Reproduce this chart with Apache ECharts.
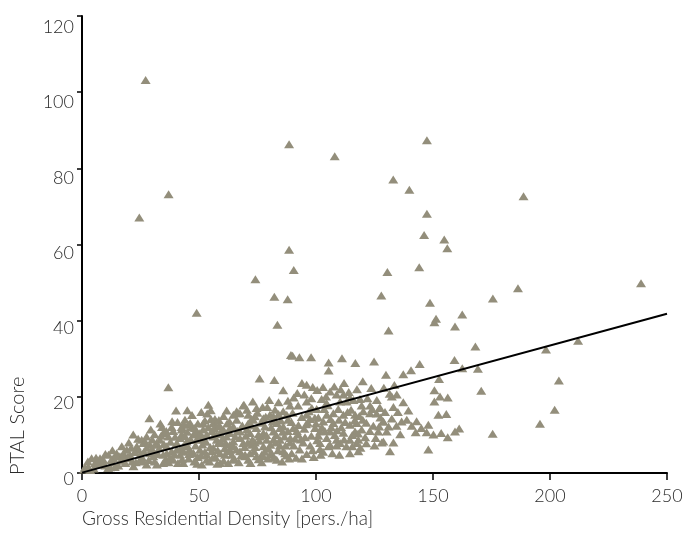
<!DOCTYPE html>
<html>
<head>
<meta charset="utf-8">
<title>PTAL Score vs Gross Residential Density</title>
<script src="https://cdn.jsdelivr.net/npm/echarts@6/dist/echarts.min.js"></script>
<style>
  html, body { margin: 0; padding: 0; background: #ffffff; }
  #chart { width: 690px; height: 556px; }
</style>
</head>
<body>
<div id="chart"></div>
<script>
// Axis ranges and ticks
const xTicks = [0, 50, 100, 150, 200, 250];
const yTicks = [0, 20, 40, 60, 80, 100, 120];

// Fitted trend line (PTAL = slope * density + intercept)
const trendSlope = 0.1668;
const trendIntercept = 0.1;

// Sparse high-PTAL areas  [density, PTAL]
const highScoreAreas = [
  [27.2,103.2],[88.5,86.3],[37.0,73.2],[24.5,67.1],[88.5,58.6],[90.5,53.3],[74.1,50.9],[82.2,46.3],[87.9,45.6],[49.0,42.1],[83.5,38.9],
  [108.0,83.2],[147.4,87.4],[133.0,77.1],[139.9,74.4],[188.7,72.7],[147.4,68.1],[146.2,62.5],[154.8,61.3],[156.1,59.0],[130.5,52.8],
  [144.1,54.0],[127.9,46.6],[148.7,44.7],[175.6,45.8],[186.3,48.5],[162.5,41.6],[151.3,40.5],[150.6,39.6],[159.4,38.5],[131.0,37.4],
  [168.1,33.2],[238.9,49.8],[198.3,32.4],[212.0,34.7],[203.8,24.3],[202.0,16.6],[195.7,12.9]
];

// Areas above 125 pers./ha
const denseAreas = [
  [159.2,29.7],[144.3,28.6],[140.6,27.0],[137.3,25.9],[129.9,25.8],[162.5,27.5],[169.2,27.4],[152.6,24.7],[133.5,23.1],[170.6,21.6],
  [150.6,21.7],[131.5,20.8],[132.4,20.1],[153.0,20.1],[156.3,19.8],[150.6,18.8],[137.3,18.6],[133.1,17.3],[127.4,17.1],[152.3,15.3],
  [155.7,15.5],[128.6,13.5],[132.4,14.3],[136.6,13.5],[138.8,14.0],[140.9,12.4],[134.4,12.4],[148.0,12.7],[161.2,11.7],[130.2,10.9],
  [142.6,10.7],[147.3,10.7],[150.2,10.1],[153.5,10.5],[156.3,9.4],[159.4,10.9],[175.5,10.3],[128.1,8.0],[133.1,8.0],[131.6,5.7],[148.0,6.2],
  [129.5,16.0],[131.0,12.2],[135.0,16.0],[136.0,10.2],[139.5,16.4],[143.0,13.6],[145.0,11.8],[134.5,20.6],[129.0,22.4]
];

// Areas between 60 and 130 pers./ha
const midAreas = [
  [89.3,31.0],[90.0,30.8],[92.9,30.4],[97.9,30.4],[105.4,29.0],[105.4,26.9],[111.1,30.1],[116.8,28.9],[124.8,29.3],[75.9,24.8],
  [82.2,24.4],[86.0,21.7],[94.0,23.6],[96.0,23.2],[98.6,22.6],[120.0,24.1],[107.8,22.7],[123.6,22.3],[106.0,21.4],[108.8,20.6],
  [111.7,20.6],[114.0,21.3],[102.4,19.4],[104.3,20.1],[110.3,18.8],[113.1,18.8],[68.9,17.7],[74.6,17.1],[77.2,17.3],[79.2,17.3],
  [82.5,16.6],[86.0,16.2],[88.9,17.7],[92.4,17.7],[98.2,17.1],[100.3,16.8],[119.5,17.7],[123.1,17.7],[127.1,17.1],[120.2,16.2],
  [123.1,15.7],[64.7,15.3],[67.5,15.7],[71.1,15.3],[73.9,14.9],[80.3,15.3],[96.0,15.3],[104.6,15.3],[107.4,15.7],[111.7,15.3],
  [116.7,15.3],[125.9,15.6],[66.1,14.0],[73.2,14.0],[77.5,14.4],[93.9,14.7],[97.4,14.2],[103.1,13.5],[107.4,13.1],[114.5,12.7],
  [117.4,13.1],[128.8,13.5],[83.2,13.1],[86.0,12.2],[90.3,11.8],[99.6,11.8],[101.7,10.9],[106.0,10.9],[111.7,10.6],[116.7,10.9],
  [119.5,11.4],[126.6,10.9],[63.2,10.5],[67.5,10.9],[71.8,10.5],[77.5,10.5],[81.8,10.9],[92.4,10.1],[95.3,9.4],[104.6,9.2],
  [108.8,8.7],[114.5,8.7],[118.1,8.7],[64.7,8.3],[68.9,7.9],[73.9,8.0],[78.9,8.7],[84.6,8.7],[88.9,8.0],[101.7,7.9],
  [106.0,7.4],[110.3,7.9],[117.4,7.9],[128.8,8.3],[63.2,6.1],[67.5,5.7],[71.8,5.2],[76.8,4.8],[81.0,5.2],[86.0,5.7],
  [89.6,5.2],[101.7,6.3],[105.3,7.0],[108.8,7.2],[114.5,5.2],[118.1,5.7],[64.7,3.7],[77.5,4.4],[69.7,4.4],
  [69.2,17.9],[66.8,15.7],[72.5,14.2],[81.8,14.9],[87.5,15.3],[64.7,12.2],[70.4,11.4],[78.2,12.2],[84.6,11.8],[75.4,10.1],
  [67.5,9.2],[81.8,8.7],[63.2,7.4],[72.5,7.4],[77.5,7.0],[84.6,7.2],[61.1,4.8],[69.7,4.8],[74.6,4.4],[80.3,4.8],
  [86.8,5.2],[65.4,3.5],[71.1,3.5],[76.8,2.8],[83.2,3.5],
  [63.0,13.5],[65.5,9.6],[66.0,6.2],[67.0,2.8],[68.5,12.5],[69.5,6.8],[70.0,9.8],[71.0,13.0],[72.0,2.6],[72.8,8.8],
  [73.5,5.8],[74.5,11.8],[75.5,3.6],[75.8,8.5],[76.5,13.2],[78.0,5.6],[78.8,10.0],[79.5,3.8],[80.5,7.4],[80.8,12.0],
  [82.0,4.0],[83.0,10.0],[83.8,6.0],[85.0,13.8],[85.5,3.0],[86.5,9.6],[87.0,7.2],[88.0,11.0],[88.5,3.8],[89.5,13.4],
  [90.5,7.2],[91.0,9.0],[91.5,4.0],[92.5,12.6],[93.0,6.2],[94.5,8.0],[95.0,11.6],[96.0,5.0],[96.5,13.2],[97.5,7.2],
  [98.0,9.8],[99.0,4.2],[100.0,13.0],[100.5,8.6],[102.5,12.0],[103.0,5.6],[103.5,16.8],[105.0,17.8],[106.5,12.0],[107.0,5.2],
  [109.0,11.2],[109.5,16.8],[110.0,4.8],[112.5,13.4],[113.0,7.0],[115.0,16.6],[115.5,10.0],[116.0,19.2],[117.5,22.0],[118.5,15.0],
  [119.0,6.6],[121.0,9.4],[121.5,13.2],[122.0,19.6],[124.5,12.4],[125.0,7.2],[126.0,19.2],[127.5,14.6],[98.0,19.6],[96.0,18.8],
  [90.5,19.8],[84.0,18.6],[80.0,19.2],[73.0,18.8],[70.5,16.6],[88.0,14.0],[101.0,14.6],[112.0,23.6],[100.5,21.8],[92.0,21.0],
  [66.5,11.0],[68.0,4.6],[70.8,8.0],[72.5,12.5],[74.0,6.8],[75.0,15.8],[76.0,9.6],[78.5,14.8],[79.8,6.4],[81.5,13.5],
  [82.8,8.0],[84.0,15.5],[85.8,10.8],[87.5,4.6],[89.0,9.2],[90.0,15.8],[91.8,11.0],[93.5,8.8],[94.0,3.8],[95.8,12.8],
  [97.0,16.2],[98.5,6.0],[99.5,14.5],[101.0,9.8],[102.0,4.8],[103.8,11.0],[104.5,18.4],[106.2,14.2],[108.0,10.0],[109.8,14.0],
  [110.8,12.0],[112.0,8.8],[113.5,16.0],[115.5,7.0],[116.5,13.8],[118.0,10.4],[120.0,14.0],[121.5,7.8],[123.0,11.0],[124.0,16.8],
  [125.5,9.2],[127.0,12.2],[118.8,19.4],[114.5,19.8],[110.5,22.0],[103.0,22.6],[95.0,20.6],[88.0,19.0]
];

// Areas below 65 pers./ha
const lowAreas = [
  [36.9,22.5],[54.0,17.9],[40.2,16.4],[53.5,15.6],[61.8,16.4],[66.1,16.2],[28.8,14.4],[55.1,14.2],[56.1,13.1],[29.4,11.4],
  [34.2,12.1],[38.3,12.1],[42.6,12.1],[45.4,12.7],[46.9,12.1],[21.9,10.1],[51.8,11.4],[57.6,12.2],[63.2,11.8],[53.3,10.1],
  [42.6,10.1],[36.9,9.6],[33.3,8.7],[26.2,7.9],[29.1,7.4],[23.4,7.0],[19.1,6.1],[14.8,5.2],[11.3,4.8],[4.1,3.9],
  [1.3,1.5],[5.6,2.6],[8.4,2.6],[12.0,1.5],[16.2,4.4],[20.5,4.8],[24.8,4.8],[30.5,5.7],[36.2,7.0],[40.5,7.9],
  [44.7,8.3],[49.0,8.7],[57.6,8.7],[61.8,9.6],[41.9,4.8],[47.6,5.2],[53.3,4.8],[59.0,5.2],[64.0,4.8],[34.7,4.8],
  [38.3,5.7],[56.1,6.6],[64.7,7.0],[29.1,5.2],[44.7,7.0],[50.4,6.1],[31.9,7.9],[41.9,9.2],[47.6,10.1],[50.4,10.5],
  [59.0,10.5],[34.7,10.5],[27.6,9.6],[25.5,8.7],[17.7,5.2],[13.4,3.9],[7.7,3.9],
  [56.8,14.2],[46.2,13.1],[42.6,11.4],[49.0,10.9],[60.4,11.4],[56.1,9.6],[51.8,9.2],[44.7,7.4],[58.3,7.9],
  [47.6,5.2],[55.4,5.7],[43.3,2.6],[51.2,2.2],[59.0,2.6],[53.3,3.5],
  [0.9,0.9],[11.2,1.3],[9.1,3.5],[14.8,4.4],[17.7,4.8],[24.1,6.1],[27.6,6.6],[31.2,7.4],[7.0,2.2],[2.7,1.6],
  [20.5,3.9],[24.8,3.5],[30.5,4.4],[36.2,5.2],[40.5,6.1],[43.3,7.0],[34.7,2.6],[27.6,2.2],[39.0,3.5],
  [3.5,0.8],[5.0,1.2],[6.5,3.3],[10.0,2.0],[13.0,2.8],[15.5,2.0],[16.5,3.2],[18.5,2.6],[19.5,4.2],[21.5,3.0],
  [22.5,5.5],[23.0,2.8],[25.8,4.0],[26.5,5.6],[28.5,3.4],[29.8,6.3],[31.0,3.0],[32.5,5.0],[33.0,6.5],[35.0,7.6],
  [35.8,3.6],[37.5,4.0],[37.8,8.2],[39.5,5.0],[39.8,9.5],[41.0,2.6],[42.0,6.4],[43.5,5.6],[44.0,9.7],[45.5,3.8],
  [46.0,6.2],[46.5,8.8],[48.0,3.0],[48.5,7.2],[49.5,4.2],[50.0,9.8],[51.5,7.5],[52.5,5.6],[53.0,8.2],[54.5,3.0],
  [54.8,6.8],[55.5,11.0],[57.0,4.2],[57.5,10.2],[58.0,6.0],[59.5,8.0],[60.5,3.2],[61.0,6.5],[62.0,13.0],[62.5,2.6],
  [38.5,13.6],[44.0,14.0],[49.5,13.0],[52.5,13.8],[58.5,13.9],[60.5,15.0],[47.0,15.2],[33.5,13.0],[31.0,10.2],[24.0,9.0],
  [20.0,8.0],[17.0,7.0],[13.0,6.0],[10.0,5.0],[6.0,4.0],[2.5,3.0],
  [12.5,3.4],[14.0,1.6],[18.0,4.0],[21.0,6.6],[22.0,1.8],[26.0,3.0],[27.0,8.2],[30.0,8.8],[32.0,2.2],[33.8,9.8],
  [36.0,11.0],[37.0,2.8],[39.0,11.0],[40.8,13.4],[42.8,3.6],[43.5,12.8],[45.0,10.8],[45.8,5.0],[48.2,11.8],[49.2,2.4],
  [50.8,4.6],[51.8,13.0],[52.2,8.8],[54.0,12.0],[55.8,4.0],[56.5,11.8],[57.8,2.4],[58.8,12.5],[60.0,9.0],[61.5,7.8],
  [62.8,5.8],[55.0,16.5],[51.0,16.0],[45.0,16.5]
];

const observations = [].concat(lowAreas, midAreas, denseAreas, highScoreAreas);
const xMin = xTicks[0], xMax = xTicks[xTicks.length - 1];
const trendLine = [
  [xMin, trendSlope * xMin + trendIntercept],
  [xMax, trendSlope * xMax + trendIntercept]
];

const FONT = 'Lato, "Open Sans", sans-serif';
const TEXT = '#2b2b2b';

// Y tick labels sit a little below their ticks, drifting further down towards the top
const yLabelRich = {};
yTicks.forEach(function (v) {
  const drop = 5.7 + 0.0475 * v;
  yLabelRich['t' + v] = { padding: [drop * 2, 0, 0, 0], fontFamily: FONT, fontWeight: 300, fontSize: 18, color: TEXT };
});

const chart = echarts.init(document.getElementById('chart'), null, { renderer: 'canvas' });
chart.setOption({
  backgroundColor: '#ffffff',
  animation: false,
  grid: { left: 82, right: 23, top: 16, bottom: 83, containLabel: false },
  xAxis: {
    type: 'value',
    min: xMin, max: xMax, interval: 50,
    axisLine: { show: true, lineStyle: { color: '#000', width: 2 } },
    axisTick: { show: true, inside: false, length: 7, lineStyle: { color: '#000', width: 1.5 } },
    axisLabel: { color: TEXT, fontFamily: FONT, fontWeight: 300, fontSize: 18, margin: 14 },
    splitLine: { show: false }
  },
  yAxis: {
    type: 'value',
    min: yTicks[0], max: yTicks[yTicks.length - 1], interval: 20,
    axisLine: { show: true, lineStyle: { color: '#000', width: 2 } },
    axisTick: { show: true, inside: false, length: 5, lineStyle: { color: '#000', width: 1.5 } },
    axisLabel: {
      color: TEXT, fontFamily: FONT, fontWeight: 300, fontSize: 18, margin: 8,
      formatter: function (v) { return '{t' + v + '|' + v + '}'; },
      rich: yLabelRich
    },
    splitLine: { show: false }
  },
  graphic: [
    {
      type: 'text', left: 82, top: 509,
      style: { text: 'Gross Residential Density [pers./ha]', fill: TEXT, font: '300 19px ' + FONT }
    },
    {
      type: 'text', x: 8, y: 475, rotation: Math.PI / 2,
      style: { text: 'PTAL Score', fill: TEXT, font: '300 20px ' + FONT, textAlign: 'left', textVerticalAlign: 'top' }
    }
  ],
  series: [
    {
      name: 'Areas',
      type: 'scatter',
      data: observations,
      symbol: 'triangle',
      symbolSize: [10, 8],
      itemStyle: { color: '#938e7b', opacity: 1 },
      silent: true,
      z: 2
    },
    {
      name: 'Trend',
      type: 'line',
      data: trendLine,
      symbol: 'none',
      lineStyle: { color: '#000000', width: 2 },
      silent: true,
      z: 3
    }
  ]
});
</script>
</body>
</html>
